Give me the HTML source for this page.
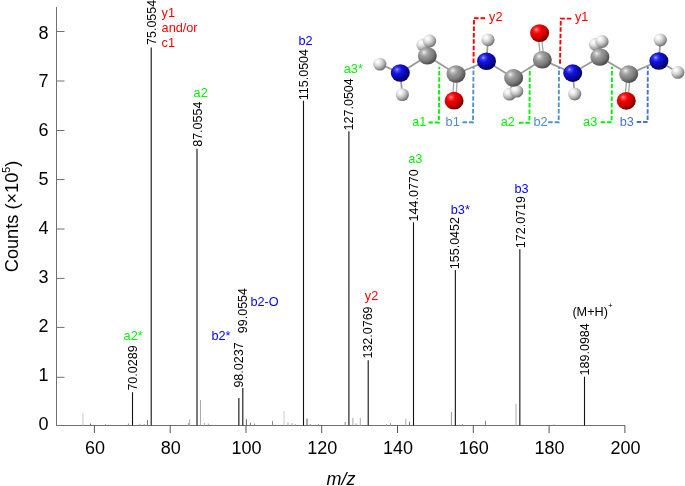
<!DOCTYPE html>
<html><head><meta charset="utf-8"><style>
html,body{margin:0;padding:0;background:#fff;}
svg{display:block;font-family:"Liberation Sans", sans-serif;will-change:transform;}
</style></head><body>
<svg width="685" height="486" viewBox="0 0 685 486">
<defs>
<radialGradient id="gC" cx="0.36" cy="0.33" r="0.76" fx="0.33" fy="0.3">
 <stop offset="0" stop-color="#f6f6f6"/><stop offset="0.13" stop-color="#c4c4c4"/><stop offset="0.32" stop-color="#9c9c9c"/>
 <stop offset="0.62" stop-color="#7c7c7c"/><stop offset="0.86" stop-color="#525252"/><stop offset="1" stop-color="#3a3a3a"/></radialGradient>
<radialGradient id="gN" cx="0.36" cy="0.33" r="0.76" fx="0.33" fy="0.3">
 <stop offset="0" stop-color="#a8a8ff"/><stop offset="0.13" stop-color="#4848f4"/><stop offset="0.32" stop-color="#1414e0"/>
 <stop offset="0.6" stop-color="#0909a8"/><stop offset="0.84" stop-color="#04046c"/><stop offset="1" stop-color="#030352"/></radialGradient>
<radialGradient id="gO" cx="0.36" cy="0.33" r="0.76" fx="0.33" fy="0.3">
 <stop offset="0" stop-color="#ffa0a0"/><stop offset="0.13" stop-color="#ff3c3c"/><stop offset="0.32" stop-color="#f40000"/>
 <stop offset="0.62" stop-color="#c80000"/><stop offset="0.86" stop-color="#840000"/><stop offset="1" stop-color="#560000"/></radialGradient>
<radialGradient id="gH" cx="0.36" cy="0.33" r="0.76" fx="0.33" fy="0.3">
 <stop offset="0" stop-color="#ffffff"/><stop offset="0.2" stop-color="#f2f2f2"/><stop offset="0.45" stop-color="#d0d0d0"/>
 <stop offset="0.7" stop-color="#a2a2a2"/><stop offset="0.88" stop-color="#747474"/><stop offset="1" stop-color="#585858"/></radialGradient>
</defs>
<rect width="685" height="486" fill="#fff"/>
<line x1="56.5" y1="7" x2="56.5" y2="425.5" stroke="#707070" stroke-width="1"/>
<line x1="56" y1="425.5" x2="625" y2="425.5" stroke="#707070" stroke-width="1"/>
<line x1="56.5" y1="377.3" x2="64.5" y2="377.3" stroke="#707070" stroke-width="1"/>
<line x1="56.5" y1="327.4" x2="64.5" y2="327.4" stroke="#707070" stroke-width="1"/>
<line x1="56.5" y1="278.4" x2="64.5" y2="278.4" stroke="#707070" stroke-width="1"/>
<line x1="56.5" y1="229" x2="64.5" y2="229" stroke="#707070" stroke-width="1"/>
<line x1="56.5" y1="179.5" x2="64.5" y2="179.5" stroke="#707070" stroke-width="1"/>
<line x1="56.5" y1="130.5" x2="64.5" y2="130.5" stroke="#707070" stroke-width="1"/>
<line x1="56.5" y1="81" x2="64.5" y2="81" stroke="#707070" stroke-width="1"/>
<line x1="56.5" y1="31.5" x2="64.5" y2="31.5" stroke="#707070" stroke-width="1"/>
<text x="48.6" y="430.1" font-size="18" text-anchor="end">0</text>
<text x="48.6" y="381.2" font-size="18" text-anchor="end">1</text>
<text x="48.6" y="332.2" font-size="18" text-anchor="end">2</text>
<text x="48.6" y="283.2" font-size="18" text-anchor="end">3</text>
<text x="48.6" y="234.3" font-size="18" text-anchor="end">4</text>
<text x="48.6" y="185.4" font-size="18" text-anchor="end">5</text>
<text x="48.6" y="136.4" font-size="18" text-anchor="end">6</text>
<text x="48.6" y="87.4" font-size="18" text-anchor="end">7</text>
<text x="48.6" y="38.5" font-size="18" text-anchor="end">8</text>
<line x1="94.4" y1="425.5" x2="94.4" y2="433" stroke="#555" stroke-width="1"/>
<text x="94.9" y="454.2" font-size="18" text-anchor="middle">60</text>
<line x1="170.2" y1="425.5" x2="170.2" y2="433" stroke="#555" stroke-width="1"/>
<text x="170.7" y="454.2" font-size="18" text-anchor="middle">80</text>
<line x1="246.0" y1="425.5" x2="246.0" y2="433" stroke="#555" stroke-width="1"/>
<text x="246.5" y="454.2" font-size="18" text-anchor="middle">100</text>
<line x1="321.7" y1="425.5" x2="321.7" y2="433" stroke="#555" stroke-width="1"/>
<text x="322.2" y="454.2" font-size="18" text-anchor="middle">120</text>
<line x1="397.5" y1="425.5" x2="397.5" y2="433" stroke="#555" stroke-width="1"/>
<text x="398.0" y="454.2" font-size="18" text-anchor="middle">140</text>
<line x1="473.3" y1="425.5" x2="473.3" y2="433" stroke="#555" stroke-width="1"/>
<text x="473.8" y="454.2" font-size="18" text-anchor="middle">160</text>
<line x1="549.1" y1="425.5" x2="549.1" y2="433" stroke="#555" stroke-width="1"/>
<text x="549.6" y="454.2" font-size="18" text-anchor="middle">180</text>
<line x1="624.9" y1="425.5" x2="624.9" y2="433" stroke="#555" stroke-width="1"/>
<text x="625.4" y="454.2" font-size="18" text-anchor="middle">200</text>
<text x="341" y="484.7" font-size="18" font-style="italic" text-anchor="middle">m/z</text>
<text transform="translate(18.4,216.5) rotate(-90)" font-size="18.2" text-anchor="middle">Counts (×10<tspan font-size="10.5" dy="-8.3">5</tspan><tspan dy="8.3">)</tspan></text>
<line x1="82.9" y1="413.2" x2="82.9" y2="425.5" stroke="#c8c8c8" stroke-width="1"/>
<line x1="90.6" y1="423.5" x2="90.6" y2="425.5" stroke="#666" stroke-width="1"/>
<line x1="105.5" y1="424.2" x2="105.5" y2="425.5" stroke="#999" stroke-width="1"/>
<line x1="128.4" y1="423.5" x2="128.4" y2="425.5" stroke="#888" stroke-width="1"/>
<line x1="140" y1="423.8" x2="140" y2="425.5" stroke="#999" stroke-width="1"/>
<line x1="144.2" y1="424" x2="144.2" y2="425.5" stroke="#999" stroke-width="1"/>
<line x1="147.5" y1="420.0" x2="147.5" y2="425.5" stroke="#777" stroke-width="1"/>
<line x1="188.7" y1="423" x2="188.7" y2="425.5" stroke="#999" stroke-width="1"/>
<line x1="189.6" y1="419.3" x2="189.6" y2="425.5" stroke="#aaa" stroke-width="1"/>
<line x1="200.5" y1="400.0" x2="200.5" y2="425.5" stroke="#aaa" stroke-width="1"/>
<line x1="204.3" y1="423" x2="204.3" y2="425.5" stroke="#aaa" stroke-width="1"/>
<line x1="208.3" y1="423.5" x2="208.3" y2="425.5" stroke="#999" stroke-width="1"/>
<line x1="246.4" y1="419.2" x2="246.4" y2="425.5" stroke="#666" stroke-width="1"/>
<line x1="250.4" y1="422.7" x2="250.4" y2="425.5" stroke="#777" stroke-width="1"/>
<line x1="254.4" y1="423.5" x2="254.4" y2="425.5" stroke="#888" stroke-width="1"/>
<line x1="272.5" y1="420.9" x2="272.5" y2="425.5" stroke="#888" stroke-width="1"/>
<line x1="284.0" y1="411.1" x2="284.0" y2="425.5" stroke="#ccc" stroke-width="1"/>
<line x1="288" y1="422.3" x2="288" y2="425.5" stroke="#aaa" stroke-width="1"/>
<line x1="292" y1="423.2" x2="292" y2="425.5" stroke="#999" stroke-width="1"/>
<line x1="295.5" y1="424" x2="295.5" y2="425.5" stroke="#aaa" stroke-width="1"/>
<line x1="307.0" y1="418.6" x2="307.0" y2="425.5" stroke="#555" stroke-width="1"/>
<line x1="310.5" y1="424" x2="310.5" y2="425.5" stroke="#999" stroke-width="1"/>
<line x1="318.5" y1="424" x2="318.5" y2="425.5" stroke="#aaa" stroke-width="1"/>
<line x1="345.2" y1="422" x2="345.2" y2="425.5" stroke="#888" stroke-width="1"/>
<line x1="352.9" y1="417.8" x2="352.9" y2="425.5" stroke="#aaa" stroke-width="1"/>
<line x1="356" y1="423.5" x2="356" y2="425.5" stroke="#999" stroke-width="1"/>
<line x1="360.3" y1="417.8" x2="360.3" y2="425.5" stroke="#aaa" stroke-width="1"/>
<line x1="386.5" y1="424" x2="386.5" y2="425.5" stroke="#aaa" stroke-width="1"/>
<line x1="390.5" y1="423" x2="390.5" y2="425.5" stroke="#999" stroke-width="1"/>
<line x1="405.8" y1="418.6" x2="405.8" y2="425.5" stroke="#aaa" stroke-width="1"/>
<line x1="409.5" y1="421.8" x2="409.5" y2="425.5" stroke="#777" stroke-width="1"/>
<line x1="451.4" y1="412.0" x2="451.4" y2="425.5" stroke="#999" stroke-width="1"/>
<line x1="462.5" y1="424" x2="462.5" y2="425.5" stroke="#aaa" stroke-width="1"/>
<line x1="485.5" y1="420.7" x2="485.5" y2="425.5" stroke="#888" stroke-width="1"/>
<line x1="516.0" y1="403.8" x2="516.0" y2="425.5" stroke="#aaa" stroke-width="1"/>
<line x1="554" y1="424.3" x2="554" y2="425.5" stroke="#aaa" stroke-width="1"/>
<line x1="132.5" y1="392.2" x2="132.5" y2="425.5" stroke="#111" stroke-width="1.1"/>
<line x1="151.2" y1="47.5" x2="151.2" y2="425.5" stroke="#111" stroke-width="1.1"/>
<line x1="197.0" y1="148.7" x2="197.0" y2="425.5" stroke="#111" stroke-width="1.1"/>
<line x1="238.85" y1="397.9" x2="238.85" y2="425.5" stroke="#111" stroke-width="1.1"/>
<line x1="242.8" y1="388" x2="242.8" y2="425.5" stroke="#111" stroke-width="1.1"/>
<line x1="303.5" y1="100.8" x2="303.5" y2="425.5" stroke="#111" stroke-width="1.1"/>
<line x1="348.9" y1="131.2" x2="348.9" y2="425.5" stroke="#111" stroke-width="1.1"/>
<line x1="368.2" y1="360.2" x2="368.2" y2="425.5" stroke="#111" stroke-width="1.1"/>
<line x1="413.5" y1="222.3" x2="413.5" y2="425.5" stroke="#111" stroke-width="1.1"/>
<line x1="455.35" y1="270.0" x2="455.35" y2="425.5" stroke="#111" stroke-width="1.1"/>
<line x1="519.85" y1="249.3" x2="519.85" y2="425.5" stroke="#111" stroke-width="1.1"/>
<line x1="584.5" y1="376.7" x2="584.5" y2="425.5" stroke="#111" stroke-width="1.1"/>
<text transform="translate(136.7,390.6) rotate(-90)" font-size="12.5">70.0289</text>
<text transform="translate(155.7,45.0) rotate(-90)" font-size="12.5">75.0554</text>
<text transform="translate(201.7,146.8) rotate(-90)" font-size="12.5">87.0554</text>
<text transform="translate(242.6,387.6) rotate(-90)" font-size="12.5">98.0237</text>
<text transform="translate(246.8,333.2) rotate(-90)" font-size="12.5">99.0554</text>
<text transform="translate(308.0,100.2) rotate(-90)" font-size="12.5">115.0504</text>
<text transform="translate(352.7,130.4) rotate(-90)" font-size="12.5">127.0504</text>
<text transform="translate(372.1,358.6) rotate(-90)" font-size="12.5">132.0769</text>
<text transform="translate(418.3,221.4) rotate(-90)" font-size="12.5">144.0770</text>
<text transform="translate(459.3,269.2) rotate(-90)" font-size="12.5">155.0452</text>
<text transform="translate(524.7,248.2) rotate(-90)" font-size="12.5">172.0719</text>
<text transform="translate(588.7,375.4) rotate(-90)" font-size="12.5">189.0984</text>
<text x="161.6" y="16.6" font-size="12.7" fill="#ff0000">y1</text>
<text x="161.6" y="31.7" font-size="12.7" fill="#ff0000">and/or</text>
<text x="161.6" y="46.6" font-size="12.7" fill="#ff0000">c1</text>
<text x="193.6" y="96.5" font-size="12.7" fill="#08f008">a2</text>
<text x="298.4" y="45.3" font-size="12.7" fill="#0000ff">b2</text>
<text x="343.8" y="73.4" font-size="12.7" fill="#08f008">a3*</text>
<text x="364.8" y="299.8" font-size="12.7" fill="#ff0000">y2</text>
<text x="408.2" y="163.0" font-size="12.7" fill="#08f008">a3</text>
<text x="450.8" y="213.5" font-size="12.7" fill="#0000ff">b3*</text>
<text x="514.4" y="192.5" font-size="12.7" fill="#0000ff">b3</text>
<text x="123.6" y="339.8" font-size="12.7" fill="#08f008">a2*</text>
<text x="211.4" y="339.6" font-size="12.7" fill="#0000ff">b2*</text>
<text x="250.5" y="305.8" font-size="12.7" fill="#0000ff">b2-O</text>
<text x="572.4" y="316.1" font-size="12.7">(M+H)<tspan font-size="8" dy="-8">+</tspan></text>
<g><line x1="379.8" y1="64.1" x2="400.3" y2="73.0" stroke="#999" stroke-width="1.7"/>
<line x1="400.3" y1="73.0" x2="402.3" y2="94.6" stroke="#999" stroke-width="1.7"/>
<line x1="400.3" y1="73.0" x2="427.3" y2="55.8" stroke="#999" stroke-width="1.7"/>
<line x1="427.3" y1="55.8" x2="429.6" y2="41.0" stroke="#999" stroke-width="1.7"/>
<line x1="427.3" y1="55.8" x2="423.0" y2="45.0" stroke="#999" stroke-width="1.7"/>
<line x1="427.3" y1="55.8" x2="456.0" y2="74.0" stroke="#999" stroke-width="1.7"/>
<line x1="456.0" y1="74.0" x2="486.5" y2="61.2" stroke="#999" stroke-width="1.7"/>
<line x1="486.5" y1="61.2" x2="488.0" y2="39.8" stroke="#999" stroke-width="1.7"/>
<line x1="486.5" y1="61.2" x2="513.6" y2="77.9" stroke="#999" stroke-width="1.7"/>
<line x1="513.6" y1="77.9" x2="516.7" y2="91.2" stroke="#999" stroke-width="1.7"/>
<line x1="513.6" y1="77.9" x2="509.5" y2="94.2" stroke="#999" stroke-width="1.7"/>
<line x1="513.6" y1="77.9" x2="542.3" y2="59.8" stroke="#999" stroke-width="1.7"/>
<line x1="542.3" y1="59.8" x2="572.7" y2="73.1" stroke="#999" stroke-width="1.7"/>
<line x1="572.7" y1="73.1" x2="574.7" y2="94.0" stroke="#999" stroke-width="1.7"/>
<line x1="572.7" y1="73.1" x2="599.9" y2="57.0" stroke="#999" stroke-width="1.7"/>
<line x1="599.9" y1="57.0" x2="602.0" y2="41.5" stroke="#999" stroke-width="1.7"/>
<line x1="599.9" y1="57.0" x2="595.5" y2="44.5" stroke="#999" stroke-width="1.7"/>
<line x1="599.9" y1="57.0" x2="628.7" y2="74.1" stroke="#999" stroke-width="1.7"/>
<line x1="628.7" y1="74.1" x2="658.9" y2="61.0" stroke="#999" stroke-width="1.7"/>
<line x1="658.9" y1="61.0" x2="660.3" y2="40.0" stroke="#999" stroke-width="1.7"/>
<line x1="658.9" y1="61.0" x2="677.8" y2="72.4" stroke="#999" stroke-width="1.7"/>
<line x1="454.4" y1="74.0" x2="452.5" y2="100.7" stroke="#a4a4a4" stroke-width="1.3"/>
<line x1="457.6" y1="74.0" x2="455.70000000000005" y2="100.7" stroke="#a4a4a4" stroke-width="1.3"/>
<line x1="540.6999999999999" y1="59.8" x2="538.0" y2="33.1" stroke="#a4a4a4" stroke-width="1.3"/>
<line x1="543.9" y1="59.8" x2="541.2" y2="33.1" stroke="#a4a4a4" stroke-width="1.3"/>
<line x1="627.1" y1="74.1" x2="624.6999999999999" y2="100.8" stroke="#a4a4a4" stroke-width="1.3"/>
<line x1="630.3000000000001" y1="74.1" x2="627.9" y2="100.8" stroke="#a4a4a4" stroke-width="1.3"/>
<ellipse cx="423.0" cy="45.0" rx="6.6" ry="6.4" fill="url(#gH)"/>
<ellipse cx="595.5" cy="44.5" rx="6.6" ry="6.4" fill="url(#gH)"/>
<ellipse cx="379.8" cy="64.1" rx="6.6" ry="6.4" fill="url(#gH)"/>
<ellipse cx="402.3" cy="94.6" rx="6.6" ry="6.4" fill="url(#gH)"/>
<ellipse cx="400.3" cy="73.0" rx="9.5" ry="8.8" fill="url(#gN)"/>
<ellipse cx="427.3" cy="55.8" rx="9.5" ry="8.8" fill="url(#gC)"/>
<ellipse cx="429.6" cy="41.0" rx="6.6" ry="6.4" fill="url(#gH)"/>
<ellipse cx="456.0" cy="74.0" rx="9.5" ry="8.8" fill="url(#gC)"/>
<ellipse cx="454.1" cy="100.7" rx="9.5" ry="8.9" fill="url(#gO)"/>
<ellipse cx="488.0" cy="39.8" rx="6.6" ry="6.4" fill="url(#gH)"/>
<ellipse cx="486.5" cy="61.2" rx="9.5" ry="8.8" fill="url(#gN)"/>
<ellipse cx="509.5" cy="94.2" rx="6.6" ry="6.4" fill="url(#gH)"/>
<ellipse cx="516.7" cy="91.2" rx="6.6" ry="6.4" fill="url(#gH)"/>
<ellipse cx="513.6" cy="77.9" rx="9.5" ry="8.8" fill="url(#gC)"/>
<ellipse cx="542.3" cy="59.8" rx="9.5" ry="8.8" fill="url(#gC)"/>
<ellipse cx="539.6" cy="33.1" rx="9.5" ry="8.9" fill="url(#gO)"/>
<ellipse cx="574.7" cy="94.0" rx="6.6" ry="6.4" fill="url(#gH)"/>
<ellipse cx="572.7" cy="73.1" rx="9.5" ry="8.8" fill="url(#gN)"/>
<ellipse cx="599.9" cy="57.0" rx="9.5" ry="8.8" fill="url(#gC)"/>
<ellipse cx="602.0" cy="41.5" rx="6.6" ry="6.4" fill="url(#gH)"/>
<ellipse cx="628.7" cy="74.1" rx="9.5" ry="8.8" fill="url(#gC)"/>
<ellipse cx="626.3" cy="100.8" rx="9.5" ry="8.9" fill="url(#gO)"/>
<ellipse cx="660.3" cy="40.0" rx="6.6" ry="6.4" fill="url(#gH)"/>
<ellipse cx="658.9" cy="61.0" rx="9.5" ry="8.8" fill="url(#gN)"/>
<ellipse cx="677.8" cy="72.4" rx="6.6" ry="6.4" fill="url(#gH)"/>
<path d="M428.4,122.5 L438.9,122.5 L439.3,67" fill="none" stroke="#08f008" stroke-width="1.9" stroke-dasharray="4.5,1.9"/>
<path d="M462.5,122.2 L473.0,122.2 L473.5,67" fill="none" stroke="#5290d8" stroke-width="1.9" stroke-dasharray="4.5,1.9"/>
<path d="M519,122.8 L529.4,122.8 L529.8,68.5" fill="none" stroke="#08f008" stroke-width="1.9" stroke-dasharray="4.5,1.9"/>
<path d="M548.2,122.2 L558.7,122.2 L559.0,67" fill="none" stroke="#5290d8" stroke-width="1.9" stroke-dasharray="4.5,1.9"/>
<path d="M600.7,122.2 L611.6,122.2 L612.0,66.7" fill="none" stroke="#08f008" stroke-width="1.9" stroke-dasharray="4.5,1.9"/>
<path d="M636.7,122.0 L647.6,122.0 L647.8,66.7" fill="none" stroke="#4673cd" stroke-width="1.9" stroke-dasharray="4.5,1.9"/>
<path d="M485,18.3 L474.0,18.3 L473.5,64.6" fill="none" stroke="#ff0000" stroke-width="1.9" stroke-dasharray="4.5,1.9"/>
<path d="M571.3,18.6 L560.8,18.6 L560.0,65" fill="none" stroke="#ff0000" stroke-width="1.9" stroke-dasharray="4.5,1.9"/>
<text x="412.3" y="125.7" font-size="12.7" fill="#08f008">a1</text>
<text x="445.6" y="126.2" font-size="12.7" fill="#5088d4">b1</text>
<text x="500.8" y="126.3" font-size="12.7" fill="#08f008">a2</text>
<text x="533.5" y="126.4" font-size="12.7" fill="#5088d4">b2</text>
<text x="583.1" y="125.9" font-size="12.7" fill="#08f008">a3</text>
<text x="619.7" y="126.1" font-size="12.7" fill="#4673cd">b3</text>
<text x="489.1" y="20.7" font-size="12.7" fill="#ff0000">y2</text>
<text x="574.9" y="20.7" font-size="12.7" fill="#ff0000">y1</text></g>
</svg></body></html>
